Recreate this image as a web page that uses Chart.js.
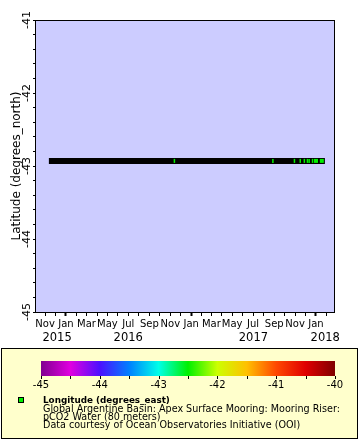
<!DOCTYPE html>
<html><head><meta charset="utf-8">
<script src="https://cdn.jsdelivr.net/npm/chart.js@4.4.0/dist/chart.umd.min.js"></script>
<style>html,body{margin:0;padding:0;background:#fff;}#wrap{width:360px;height:440px;position:relative;}</style>
</head><body><div id="wrap"><canvas id="c" width="360" height="440"></canvas></div>
<script>
// ---- data ----
const latitude = -42.93;                       // mooring latitude (degrees_north)
const trackStart = '2015-11-12';               // first observation
const trackEnd = '2018-01-27';                 // last observation
const isolatedObs = ['2016-11-13','2017-08-28','2017-10-30','2017-11-16','2017-11-28','2017-12-07','2017-12-12','2017-12-22'];
const clusterObs = ['2018-01-01','2018-01-18'];
const obsLongitude = -42.5;                    // colour value of visible markers
const axisStart = '2015-10-05T08:00:00Z';
const axisEnd = '2018-02-25T14:00:00Z';
const latMin = -45, latMax = -41;
const monthNames = ['Jan','Feb','Mar','Apr','May','Jun','Jul','Aug','Sep','Oct','Nov','Dec'];
const yearLabels = ['2015','2016','2017','2018'];
const yearLabelDates = ['2015-12-06','2016-07-01','2017-07-02','2018-01-28'];
const colorbarMin = -45, colorbarMax = -40;
const colorbarLabels = [-45,-44,-43,-42,-41,-40];
const legendTitle = 'Longitude (degrees_east)';
const legendLines = ['Global Argentine Basin: Apex Surface Mooring: Mooring Riser:','pCO2 Water (80 meters)','Data courtesy of Ocean Observatories Initiative (OOI)'];
const yTitle = 'Latitude (degrees_north)';

// ---- helpers ----
const T = s => Date.parse(s.length === 10 ? s + 'T00:00:00Z' : s);
const xMin = T(axisStart), xMax = T(axisEnd);
const rainbow = [[0,'#800090'],[0.1,'#e000e0'],[0.2,'#4c10ff'],[0.3,'#0080ff'],[0.4,'#00ffe8'],[0.5,'#00f000'],[0.6,'#ccff00'],[0.7,'#ffc000'],[0.8,'#ff4800'],[0.9,'#e00000'],[1,'#800000']];
function colorFor(v){
  const f = (v - colorbarMin)/(colorbarMax - colorbarMin);
  let best = rainbow[0];
  rainbow.forEach(s => { if (Math.abs(s[0]-f) < Math.abs(best[0]-f)) best = s; });
  return best[1];
}
const markerColor = colorFor(obsLongitude);
const FONT = '"DejaVu Sans", sans-serif';

const bgPlugin = {
  id:'bg',
  beforeDatasetsDraw(chart){
    const {ctx, chartArea:a} = chart;
    ctx.save(); ctx.fillStyle = '#ccccff';
    ctx.fillRect(a.left, a.top, a.right-a.left, a.bottom-a.top); ctx.restore();
  },
  afterDatasetsDraw(chart){
    const {ctx, chartArea:a} = chart;
    ctx.save(); ctx.strokeStyle = '#000'; ctx.lineWidth = 1;
    ctx.strokeRect(Math.round(a.left)-0.5, Math.round(a.top)+0.5, Math.round(a.right-a.left), Math.round(a.bottom-a.top)); ctx.restore();
  },
  afterDraw(chart){
    const ctx = chart.ctx;
    ctx.save();
    // legend box
    ctx.fillStyle = '#ffffcc'; ctx.fillRect(1,348,357,91);
    ctx.strokeStyle = '#000'; ctx.lineWidth = 1; ctx.strokeRect(1.5,348.5,356,90);
    // colour bar
    const bx = 41, bw = 294, by = 361, bh = 15;
    const g = ctx.createLinearGradient(bx,0,bx+bw,0);
    rainbow.forEach(s => g.addColorStop(s[0], s[1]));
    ctx.fillStyle = g; ctx.fillRect(bx,by,bw,bh);
    ctx.strokeStyle = '#000';
    for (let v = colorbarMin; v <= colorbarMax + 1e-9; v += 0.5){
      const x = Math.round(bx + (v-colorbarMin)/(colorbarMax-colorbarMin)*bw) + 0.5;
      ctx.beginPath(); ctx.moveTo(x, by+bh); ctx.lineTo(x, by+bh+3); ctx.stroke();
    }
    ctx.fillStyle = '#000'; ctx.font = '10px ' + FONT; ctx.textAlign = 'center'; ctx.textBaseline = 'alphabetic';
    colorbarLabels.forEach(v => {
      const x = bx + (v-colorbarMin)/(colorbarMax-colorbarMin)*bw;
      ctx.fillText(String(v), x, 387.5);
    });
    // legend marker
    ctx.fillStyle = markerColor; ctx.fillRect(18,397,6,6);
    ctx.strokeRect(18.5,397.5,5,5);
    ctx.fillStyle = '#000'; ctx.textAlign = 'left';
    ctx.font = 'bold 8.8px ' + FONT; ctx.fillText(legendTitle, 43, 403.3);
    ctx.font = '9.6px ' + FONT;
    legendLines.forEach((l,i) => ctx.fillText(l, 43, 411.7 + i*8.3));
    ctx.restore();
  }
};

const monthTicks = scale => {
  const out = []; const d0 = new Date(xMin);
  let y = d0.getUTCFullYear(), m = d0.getUTCMonth() + 1;
  while (true){ const v = Date.UTC(y, m, 1); if (v > xMax) break; out.push({value: v}); m++; if (m>11){m=0;y++;} }
  scale.ticks = out;
};

new Chart(document.getElementById('c'), {
  type: 'scatter',
  data: { datasets: [
    { label:'isolated', data: isolatedObs.map(d => ({x:T(d), y:latitude})), pointStyle:'line', rotation:90, pointRadius:2, borderColor: markerColor, pointBorderWidth:1.5, borderWidth:1.5 },
    { label:'cluster', data: clusterObs.map(d => ({x:T(d), y:latitude})), pointStyle:'rect', pointRadius:2.83, backgroundColor: markerColor, pointBorderWidth:0, borderWidth:0 },
    { label:'track', data: [{x:T(trackStart), y:latitude},{x:T(trackEnd), y:latitude}], showLine:true, borderColor:'#000', borderWidth:6, borderCapStyle:'butt', pointRadius:0 }
  ]},
  options: {
    animation:false, responsive:false, devicePixelRatio:1,
    plugins:{ legend:{display:false}, tooltip:{enabled:false} },
    layout:{ padding:{ left:0, top:20, right:25, bottom:94 } },
    scales:{
      x:{ type:'linear', position:'bottom', weight:0, min:xMin, max:xMax,
        afterBuildTicks: monthTicks,
        afterFit(s){ s.height = 18; },
        border:{display:false},
        grid:{ display:true, drawOnChartArea:false, drawTicks:true, tickLength:4, tickColor:'#000',
               tickWidth: c => (c.tick && new Date(c.tick.value).getUTCMonth() === 0) ? 2 : 1 },
        ticks:{ autoSkip:false, maxRotation:0, minRotation:0, color:'#000', padding:2,
                font:{ family: FONT, size: 10 },
                callback: v => { const m = new Date(v).getUTCMonth(); return m % 2 === 0 ? monthNames[m] : ''; } }
      },
      x2:{ type:'linear', position:'bottom', weight:1, min:xMin, max:xMax,
        afterBuildTicks(s){ s.ticks = yearLabelDates.map(d => ({value:T(d)})); },
        afterFit(s){ s.height = 16; },
        border:{display:false},
        grid:{ display:false, drawTicks:false },
        ticks:{ autoSkip:false, maxRotation:0, minRotation:0, color:'#000', padding:1,
                font:{ family: FONT, size: 11.5 },
                callback: (v,i) => yearLabels[i] }
      },
      y:{ type:'linear', position:'left', min:latMin, max:latMax,
        afterBuildTicks(s){ const t=[]; for (let k=0;k<=20;k++) t.push({value: Math.round((latMin + k*0.2)*10)/10}); s.ticks = t; },
        afterFit(s){ s.width = 36; },
        border:{display:false},
        grid:{ display:true, drawOnChartArea:false, drawTicks:true, tickLength:3, tickColor:'#000' },
        ticks:{ autoSkip:false, minRotation:90, maxRotation:90, crossAlign:'center', padding:-3, color:'#000',
                font:{ family: FONT, size: 11 },
                callback: v => Math.abs(v - Math.round(v)) < 1e-6 ? String(Math.round(v)) : '' },
        title:{ display:true, text:yTitle, color:'#000', font:{ family: FONT, size: 12 }, padding:{top:10, bottom:0} }
      }
    }
  },
  plugins:[bgPlugin]
});
</script></body></html>
